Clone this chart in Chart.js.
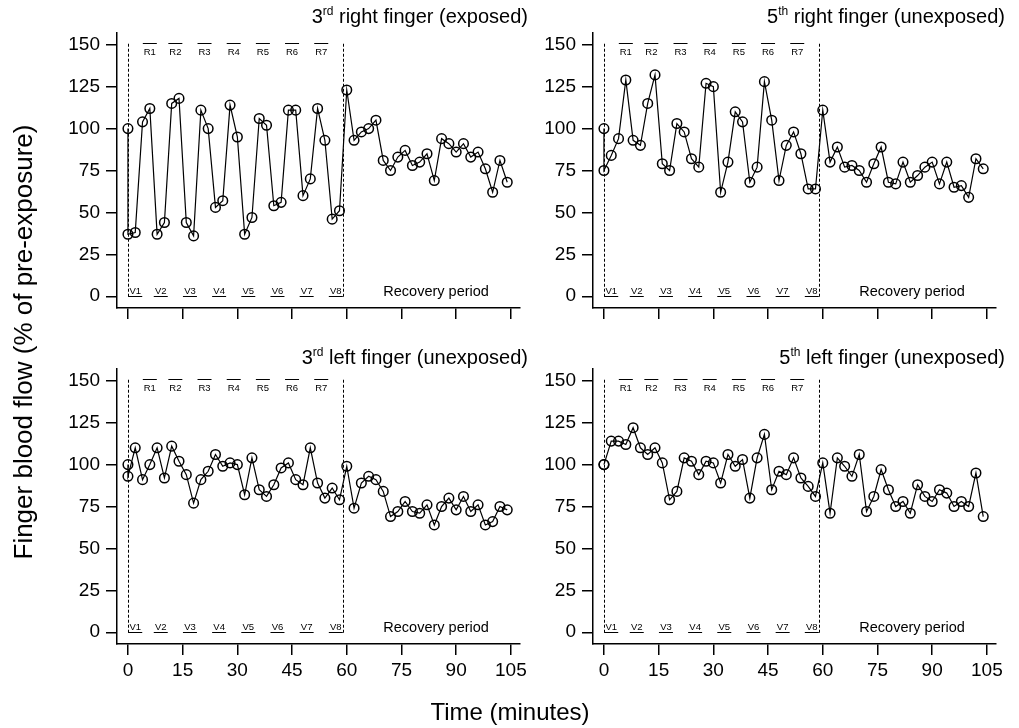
<!DOCTYPE html>
<html>
<head>
<meta charset="utf-8">
<script src="https://cdn.jsdelivr.net/npm/chart.js@4"></script>
<style>
  html, body { margin: 0; padding: 0; background: #fff; }
  body { width: 1019px; height: 728px; position: relative; overflow: hidden; font-family: 'Liberation Sans', Arial, sans-serif; color: #000; }
  canvas { position: absolute; left: 0; top: 0; }
  .title { position: absolute; font-size: 20px; line-height: 1; white-space: nowrap; text-align: right; }
  .title sup { font-size: 12px; vertical-align: 8px; line-height: 0; }
  .axis-title { position: absolute; line-height: 1; white-space: nowrap; text-align: center; }
</style>
</head>
<body>
<canvas id="tl" width="1019" height="728"></canvas>
<canvas id="tr" width="1019" height="728"></canvas>
<canvas id="bl" width="1019" height="728"></canvas>
<canvas id="br" width="1019" height="728"></canvas>

<div class="title" style="right:491px; top:6px;">3<sup>rd</sup> right finger (exposed)</div>
<div class="title" style="right:14px; top:6px;">5<sup>th</sup> right finger (unexposed)</div>
<div class="title" style="right:491px; top:347px;">3<sup>rd</sup> left finger (unexposed)</div>
<div class="title" style="right:14px; top:347px;">5<sup>th</sup> left finger (unexposed)</div>

<div class="axis-title" style="font-size:26px; left:-227px; top:329px; width:500px; transform:rotate(-90deg);">Finger blood flow (% of pre-exposure)</div>
<div class="axis-title" style="font-size:24px; left:310px; top:700px; width:400px;">Time (minutes)</div>

<script>
// sampling times (minutes); the first entry is the pre-exposure baseline
const times = [0, 0, 2, 4, 6, 8, 10, 12, 14, 16, 18, 20, 22, 24, 26, 28, 30, 32, 34, 36, 38, 40,
  42, 44, 46, 48, 50, 52, 54, 56, 58, 60, 62, 64, 66, 68, 70, 72, 74, 76, 78, 80, 82, 84,
  86, 88, 90, 92, 94, 96, 98, 100, 102, 104];

const rightThird = [100, 37, 38, 104, 112, 37, 44, 115, 118, 44, 36, 111, 100, 53, 57, 114, 95, 37, 47, 106,
  102, 54, 56, 111, 111, 60, 70, 112, 93, 46, 51, 123, 93, 98, 100, 105, 81, 75, 83, 87,
  78, 80, 85, 69, 94, 91, 86, 91, 83, 86, 76, 62, 81, 68];

const rightFifth = [100, 75, 84, 94, 129, 93, 90, 115, 132, 79, 75, 103, 98, 82, 77, 127, 125, 62, 80, 110,
  104, 68, 77, 128, 105, 69, 90, 98, 85, 64, 64, 111, 80, 89, 77, 78, 75, 68, 79, 89,
  68, 67, 80, 68, 72, 77, 80, 67, 80, 65, 66, 59, 82, 76];

const leftThird = [100, 93, 110, 91, 100, 110, 92, 111, 102, 94, 77, 91, 96, 106, 99, 101, 100, 82, 104, 85,
  81, 88, 98, 101, 91, 88, 110, 89, 80, 86, 79, 99, 74, 89, 93, 91, 84, 69, 72, 78,
  72, 71, 76, 64, 75, 80, 73, 81, 72, 76, 64, 66, 75, 73];

const leftFifth = [100, 100, 114, 114, 112, 122, 110, 106, 110, 101, 79, 84, 104, 102, 94, 102, 101, 89, 106, 99,
  103, 80, 104, 118, 85, 96, 94, 104, 92, 87, 81, 101, 71, 104, 99, 93, 106, 72, 81, 97,
  85, 75, 78, 71, 88, 81, 78, 85, 83, 75, 78, 75, 95, 69];

const xTicks = [0, 15, 30, 45, 60, 75, 90, 105];
const yTicks = [0, 25, 50, 75, 100, 125, 150];

// rest (R) and vibration (V) period markers
const restLabels = ['R1', 'R2', 'R3', 'R4', 'R5', 'R6', 'R7'];
const restTimes = [6, 13, 21, 29, 37, 45, 53];
const vibLabels = ['V1', 'V2', 'V3', 'V4', 'V5', 'V6', 'V7', 'V8'];
const vibTimes = [2, 9, 17, 25, 33, 41, 49, 57];
const exposureBounds = [0, 59];
const recoveryLabel = 'Recovery period';
const recoveryTime = 84.5;

const FONT = "'Liberation Sans', Arial, sans-serif";

const decor = {
    id: 'decor',
    afterDatasetsDraw(chart) {
        const { ctx, scales: { x, y } } = chart;
        const y0 = y.getPixelForValue(0);
        const y150 = y.getPixelForValue(150);
        ctx.save();
        ctx.strokeStyle = '#000';
        ctx.fillStyle = '#000';

        // dashed exposure bounds
        ctx.lineWidth = 1;
        ctx.setLineDash([3, 2]);
        exposureBounds.forEach(t => {
            const px = Math.round(x.getPixelForValue(t)) + 0.5;
            ctx.beginPath();
            ctx.moveTo(px, y150 - 1);
            ctx.lineTo(px, y0 + 1);
            ctx.stroke();
        });
        ctx.setLineDash([]);

        ctx.font = '9.5px ' + FONT;
        ctx.textAlign = 'center';

        // rest periods: overline + label
        ctx.textBaseline = 'top';
        restLabels.forEach((lab, i) => {
            const px = x.getPixelForValue(restTimes[i]);
            ctx.beginPath();
            ctx.moveTo(px - 7, Math.round(y150) - 1.5);
            ctx.lineTo(px + 7, Math.round(y150) - 1.5);
            ctx.stroke();
            ctx.fillText(lab, px, y150 + 3);
        });

        // vibration periods: label + underline
        ctx.textBaseline = 'alphabetic';
        vibLabels.forEach((lab, i) => {
            const px = x.getPixelForValue(vibTimes[i]);
            ctx.fillText(lab, px, y0 - 2);
            ctx.beginPath();
            ctx.moveTo(px - 7, Math.round(y0) + 0.5);
            ctx.lineTo(px + 7, Math.round(y0) + 0.5);
            ctx.stroke();
        });

        ctx.font = '14.5px ' + FONT;
        ctx.fillText(recoveryLabel, x.getPixelForValue(recoveryTime), y0);
        ctx.restore();
    }
};

const panels = [
    { id: 'tl', series: rightThird, left: 117, top: 33, right: 520, bottom: 308, showX: false },
    { id: 'tr', series: rightFifth, left: 593, top: 33, right: 996, bottom: 308, showX: false },
    { id: 'bl', series: leftThird, left: 117, top: 369, right: 520, bottom: 644, showX: true },
    { id: 'br', series: leftFifth, left: 593, top: 369, right: 996, bottom: 644, showX: true }
];

const Y_WIDTH = 60;
const X_HEIGHT = 40;

panels.forEach(p => {
    const ctx = document.getElementById(p.id).getContext('2d');
    new Chart(ctx, {
        type: 'line',
        data: {
            datasets: [{
                data: times.map((t, i) => ({ x: t, y: p.series[i] })),
                borderColor: '#000',
                borderWidth: 1.2,
                pointRadius: 4.8,
                pointBorderWidth: 1.5,
                pointBorderColor: '#000',
                pointBackgroundColor: 'rgba(0,0,0,0)',
                tension: 0,
                fill: false
            }]
        },
        options: {
            responsive: false,
            animation: false,
            events: [],
            layout: {
                padding: {
                    left: p.left - Y_WIDTH,
                    top: p.top,
                    right: 1019 - p.right,
                    bottom: 728 - p.bottom - X_HEIGHT
                }
            },
            plugins: {
                legend: { display: false },
                tooltip: { enabled: false }
            },
            scales: {
                x: {
                    type: 'linear',
                    min: -3,
                    max: 107.5,
                    afterBuildTicks: s => { s.ticks = xTicks.map(v => ({ value: v })); },
                    afterFit: s => { s.height = X_HEIGHT; },
                    grid: { drawOnChartArea: false, drawTicks: true, tickLength: 11, color: '#000', lineWidth: 1.5 },
                    border: { display: true, color: '#000', width: 1.5 },
                    ticks: { display: p.showX, autoSkip: false, maxRotation: 0, color: '#000', padding: 4, font: { size: 19, family: FONT } }
                },
                y: {
                    min: -7,
                    max: 157,
                    afterBuildTicks: s => { s.ticks = yTicks.map(v => ({ value: v })); },
                    afterFit: s => { s.width = Y_WIDTH; },
                    grid: { drawOnChartArea: false, drawTicks: true, tickLength: 11, color: '#000', lineWidth: 1.5 },
                    border: { display: true, color: '#000', width: 1.5 },
                    ticks: { autoSkip: false, color: '#000', padding: 6, font: { size: 19, family: FONT } }
                }
            }
        },
        plugins: [decor]
    });
});
</script>
</body>
</html>
